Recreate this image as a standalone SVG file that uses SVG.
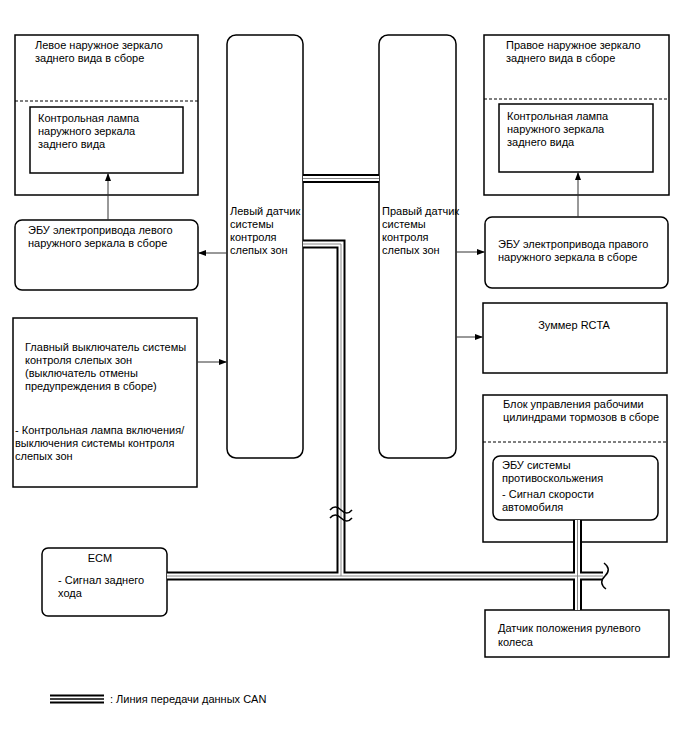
<svg xmlns="http://www.w3.org/2000/svg" width="688" height="755" viewBox="0 0 688 755">
<style>
text{font-family:"Liberation Sans",Arial,sans-serif;font-size:11px;fill:#000}
.box{fill:#fff;stroke:#000;stroke-width:1.5}
.dash{stroke:#000;stroke-width:1.2;stroke-dasharray:3,2;fill:none}
.wire{stroke:#333;stroke-width:1;fill:none}
.canO{stroke:#000;stroke-width:9;fill:none}
.canW{stroke:#fff;stroke-width:5;fill:none}
.canC{stroke:#888;stroke-width:1;fill:none}
.brk{stroke:#000;stroke-width:1.5;fill:none}
</style>
<defs>
<marker id="ah" markerWidth="8" markerHeight="6" refX="7" refY="3" orient="auto" markerUnits="userSpaceOnUse">
<path d="M0,0 L8,3 L0,6 z" fill="#000"/>
</marker>
</defs>

<g id="left-mirror">
<rect class="box" x="15" y="35" width="183" height="160"/>
<text x="35" y="49">Левое наружное зеркало</text>
<text x="35" y="62">заднего вида в сборе</text>
<line class="dash" x1="15" y1="101" x2="198" y2="101"/>
<rect class="box" x="30" y="107" width="153" height="66"/>
<text x="38" y="122">Контрольная лампа</text>
<text x="38" y="135">наружного зеркала</text>
<text x="38" y="148">заднего вида</text>
</g>

<g id="right-mirror">
<rect class="box" x="484" y="35" width="185" height="160"/>
<text x="506" y="49">Правое наружное зеркало</text>
<text x="506" y="62">заднего вида в сборе</text>
<line class="dash" x1="484" y1="99" x2="669" y2="99"/>
<rect class="box" x="499" y="104" width="154" height="68"/>
<text x="507" y="120">Контрольная лампа</text>
<text x="507" y="133">наружного зеркала</text>
<text x="507" y="146">заднего вида</text>
</g>

<g id="left-sensor">
<rect class="box" x="227" y="35" width="76" height="423" rx="9"/>
<text x="230" y="215">Левый датчик</text>
<text x="230" y="228">системы</text>
<text x="230" y="241">контроля</text>
<text x="230" y="254">слепых зон</text>
</g>

<g id="right-sensor">
<rect class="box" x="379" y="35" width="77" height="423" rx="9"/>
<text x="382" y="215">Правый датчик</text>
<text x="382" y="228">системы</text>
<text x="382" y="241">контроля</text>
<text x="382" y="254">слепых зон</text>
</g>

<g id="left-ecu">
<rect class="box" x="15" y="220" width="183" height="70" rx="7"/>
<text x="28" y="234">ЭБУ электропривода левого</text>
<text x="28" y="247">наружного зеркала в сборе</text>
</g>

<g id="right-ecu">
<rect class="box" x="485" y="217" width="183" height="71" rx="7"/>
<text x="498" y="248">ЭБУ электропривода правого</text>
<text x="498" y="261">наружного зеркала в сборе</text>
</g>

<g id="main-switch">
<rect class="box" x="13" y="318" width="184" height="169"/>
<text x="25" y="351">Главный выключатель системы</text>
<text x="25" y="364">контроля слепых зон</text>
<text x="25" y="377">(выключатель отмены</text>
<text x="25" y="390">предупреждения в сборе)</text>
<text x="15" y="434">- Контрольная лампа включения/</text>
<text x="15" y="447">выключения системы контроля</text>
<text x="15" y="460">слепых зон</text>
</g>

<g id="buzzer">
<rect class="box" x="483" y="303" width="184" height="70"/>
<text x="574" y="329" text-anchor="middle">Зуммер RCTA</text>
</g>

<g id="brake-block">
<rect class="box" x="483" y="395" width="184" height="147"/>
<text x="503" y="408">Блок управления рабочими</text>
<text x="503" y="421">цилиндрами тормозов в сборе</text>
<line class="dash" x1="483" y1="442" x2="667" y2="442"/>
<rect class="box" x="493" y="456" width="165" height="64" rx="7"/>
<text x="502" y="469">ЭБУ системы</text>
<text x="502" y="482">противоскольжения</text>
<text x="502" y="498">- Сигнал скорости</text>
<text x="502" y="511">автомобиля</text>
</g>

<g id="ecm">
<rect class="box" x="42" y="548" width="125" height="68" rx="6"/>
<text x="100" y="562" text-anchor="middle">ECM</text>
<text x="58" y="584">- Сигнал заднего</text>
<text x="58" y="597">хода</text>
</g>

<g id="steering-sensor">
<rect class="box" x="485" y="610" width="184" height="47"/>
<text x="498" y="632">Датчик положения рулевого</text>
<text x="498" y="646">колеса</text>
</g>

<g id="connectors">
<line class="wire" x1="108" y1="220" x2="108" y2="174" marker-end="url(#ah)"/>
<line class="wire" x1="578" y1="217" x2="578" y2="173" marker-end="url(#ah)"/>
<line class="wire" x1="227" y1="253" x2="199" y2="253" marker-end="url(#ah)"/>
<line class="wire" x1="197" y1="362" x2="226" y2="362" marker-end="url(#ah)"/>
<line class="wire" x1="456" y1="252" x2="484" y2="252" marker-end="url(#ah)"/>
<line class="wire" x1="456" y1="337" x2="482" y2="337" marker-end="url(#ah)"/>

<g id="can-bus">
<path class="canO" d="M303,178.5 H379 M303,244 H341 V576 M167,576 H603 M577.5,520 V610"/>
<path class="canW" d="M303,178.5 H379 M303,244 H341 V576 M167,576 H603 M577.5,520 V610"/>
<path class="canC" d="M303,178.5 H379 M303,244 H341 V576 M167,576 H603 M577.5,520 V610"/>
<path class="brk" d="M330,510 q5,-6 11,0 t11,0 M330,518 q5,-6 11,0 t11,0"/>
<path class="brk" d="M604,563 q8,6 1,13 t1,13"/>
</g>
</g>

<g id="legend">
<path class="canO" d="M50,699 H104"/>
<path class="canW" d="M50,699 H104"/>
<path d="M50,699 H104" stroke="#000" stroke-width="1.5" fill="none"/>
<text x="110" y="703">: Линия передачи данных CAN</text>
</g>
</svg>
